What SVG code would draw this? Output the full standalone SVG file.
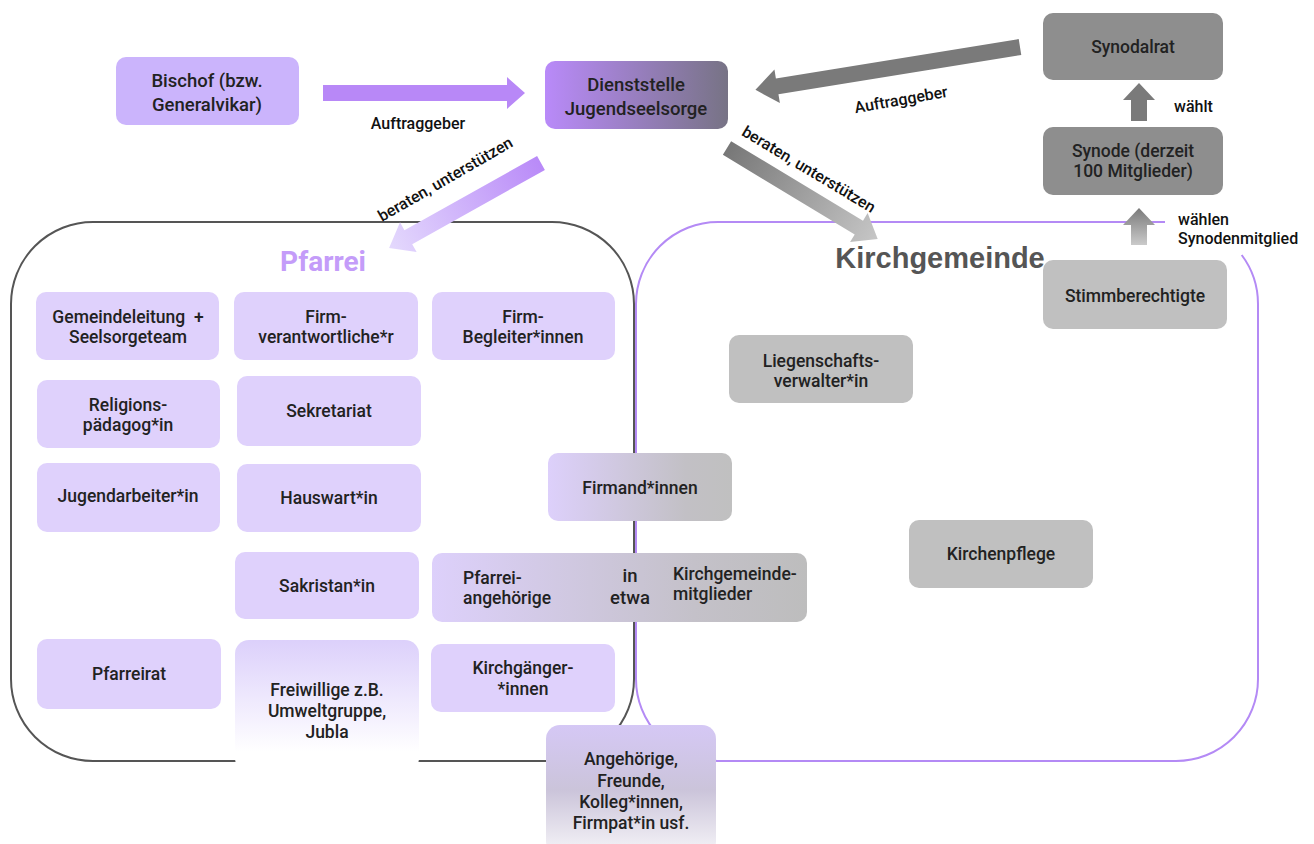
<svg xmlns="http://www.w3.org/2000/svg" width="1314" height="844" viewBox="0 0 1314 844">
<style>
.t{font-family:Roboto,"Liberation Sans",sans-serif;font-size:17.5px;font-weight:500;fill:#222;text-anchor:middle}
.tb{font-family:Roboto,"Liberation Sans",sans-serif;font-size:18.5px;font-weight:500;fill:#222;text-anchor:middle}
.tl{font-family:Roboto,"Liberation Sans",sans-serif;font-size:17.5px;font-weight:500;fill:#222}
.lab{font-family:Roboto,"Liberation Sans",sans-serif;font-size:16px;font-weight:500;fill:#111;text-anchor:middle}
.labs{font-family:Roboto,"Liberation Sans",sans-serif;font-size:16px;font-weight:500;fill:#111}
.pf{fill:#dfd1fc}
.gr{fill:#c0c0c0}
.dg{fill:#8e8e8e}
</style>
<defs>
<linearGradient id="gDienst" x1="0" y1="0" x2="1" y2="0"><stop offset="0" stop-color="#b98af9"/><stop offset="1" stop-color="#777385"/></linearGradient>
<linearGradient id="gFirmand" x1="0" y1="0" x2="1" y2="0"><stop offset="0" stop-color="#ddd0fb"/><stop offset="0.75" stop-color="#c2c0c5"/><stop offset="1" stop-color="#c0c0c0"/></linearGradient>
<linearGradient id="gRow" x1="0" y1="0" x2="1" y2="0"><stop offset="0" stop-color="#ddd0fb"/><stop offset="0.7" stop-color="#c4c1c9"/><stop offset="1" stop-color="#bdbdbd"/></linearGradient>
<linearGradient id="gFrei" x1="0" y1="0" x2="0" y2="1"><stop offset="0" stop-color="#dcd0fb"/><stop offset="0.85" stop-color="#ffffff"/></linearGradient>
<linearGradient id="gAng" x1="0" y1="0" x2="0" y2="1"><stop offset="0" stop-color="#d5c8f5"/><stop offset="0.5" stop-color="#cbc4da"/><stop offset="1" stop-color="#f6f5f8"/></linearGradient>
<linearGradient id="gArrP" x1="0" y1="0" x2="1" y2="0"><stop offset="0" stop-color="#b98af8"/><stop offset="1" stop-color="#e4d9fd"/></linearGradient>
<linearGradient id="gArrK" x1="0" y1="0" x2="1" y2="0"><stop offset="0" stop-color="#777777"/><stop offset="1" stop-color="#c6c6c6"/></linearGradient>
<linearGradient id="gUp" x1="0" y1="0" x2="0" y2="1"><stop offset="0" stop-color="#7a7a7a"/><stop offset="1" stop-color="#cacaca"/></linearGradient>
</defs>
<rect width="1314" height="844" fill="#ffffff"/>

<g id="containers">
<rect x="11" y="222" width="623" height="539" rx="82" fill="none" stroke="#555" stroke-width="2"/>
<path d="M1165,222 H718 A82,82 0 0 0 636,304 V679 A82,82 0 0 0 718,761 H1176 A82,82 0 0 0 1258,679 V304 A82,82 0 0 0 1241.7,255" fill="none" stroke="#b48af5" stroke-width="2"/>
<text x="323" y="271" style="font-family:Roboto,'Liberation Sans',sans-serif;font-size:28px;font-weight:bold;fill:#c49cf9;text-anchor:middle">Pfarrei</text>
<text x="940" y="268" style="font-family:'Liberation Sans',Arial,sans-serif;font-size:29px;font-weight:bold;fill:#555;text-anchor:middle">Kirchgemeinde</text>
</g>

<g id="bischof"><rect x="116" y="57" width="183" height="68" rx="10" fill="#cbb4fc"/><text class="tb" x="207" y="87">Bischof (bzw.</text><text class="tb" x="207" y="111">Generalvikar)</text></g>
<g id="dienststelle"><rect x="545" y="61" width="183" height="68" rx="10" fill="url(#gDienst)"/><text class="tb" x="636" y="91">Dienststelle</text><text class="tb" x="636" y="115">Jugendseelsorge</text></g>
<g id="synodalrat"><rect x="1043" y="13" width="180" height="67" rx="10" class="dg"/><text class="t" x="1133" y="53">Synodalrat</text></g>
<g id="synode"><rect x="1043" y="127" width="180" height="68" rx="10" class="dg"/><text class="t" x="1133" y="157">Synode (derzeit</text><text class="t" x="1133" y="177">100 Mitglieder)</text></g>
<g id="stimmberechtigte"><rect x="1043" y="260" width="184" height="69" rx="10" class="gr"/><text class="t" x="1135" y="302">Stimmberechtigte</text></g>
<g id="liegenschaft"><rect x="729" y="335" width="184" height="68" rx="10" class="gr"/><text class="t" x="821" y="367">Liegenschafts-</text><text class="t" x="821" y="387">verwalter*in</text></g>
<g id="kirchenpflege"><rect x="909" y="520" width="184" height="68" rx="10" class="gr"/><text class="t" x="1001" y="560">Kirchenpflege</text></g>

<g id="gemeindeleitung"><rect x="36" y="292" width="183" height="68" rx="10" class="pf"/><text class="t" x="128" y="323">Gemeindeleitung&#160; +</text><text class="t" x="128" y="343">Seelsorgeteam</text></g>
<g id="firmverantwortliche"><rect x="234" y="292" width="184" height="68" rx="10" class="pf"/><text class="t" x="326" y="323">Firm-</text><text class="t" x="326" y="343">verantwortliche*r</text></g>
<g id="firmbegleiter"><rect x="432" y="292" width="183" height="68" rx="10" class="pf"/><text class="t" x="523" y="323">Firm-</text><text class="t" x="523" y="343">Begleiter*innen</text></g>
<g id="religion"><rect x="37" y="380" width="183" height="68" rx="10" class="pf"/><text class="t" x="128" y="411">Religions-</text><text class="t" x="128" y="431">pädagog*in</text></g>
<g id="sekretariat"><rect x="237" y="376" width="184" height="70" rx="10" class="pf"/><text class="t" x="329" y="417">Sekretariat</text></g>
<g id="jugendarbeiter"><rect x="37" y="463" width="183" height="69" rx="10" class="pf"/><text class="t" x="128" y="502">Jugendarbeiter*in</text></g>
<g id="hauswart"><rect x="237" y="464" width="184" height="68" rx="10" class="pf"/><text class="t" x="329" y="504">Hauswart*in</text></g>
<g id="sakristan"><rect x="235" y="552" width="184" height="67" rx="10" class="pf"/><text class="t" x="327" y="592">Sakristan*in</text></g>
<g id="pfarreirat"><rect x="37" y="639" width="184" height="70" rx="10" class="pf"/><text class="t" x="129" y="680">Pfarreirat</text></g>
<g id="freiwillige"><rect x="235" y="640" width="184" height="132" rx="14" fill="url(#gFrei)"/><text class="t" x="327" y="696">Freiwillige z.B.</text><text class="t" x="327" y="717">Umweltgruppe,</text><text class="t" x="327" y="738">Jubla</text></g>
<g id="kirchgaenger"><rect x="431" y="644" width="184" height="68" rx="10" class="pf"/><text class="t" x="523" y="674">Kirchgänger-</text><text class="t" x="523" y="695">*innen</text></g>
<g id="firmand"><rect x="548" y="453" width="184" height="68" rx="10" fill="url(#gFirmand)"/><text class="t" x="640" y="494">Firmand*innen</text></g>
<g id="mitglieder"><rect x="432" y="553" width="375" height="69" rx="10" fill="url(#gRow)"/><text class="tl" x="463" y="584">Pfarrei-</text><text class="tl" x="463" y="604">angehörige</text><text class="tb" x="630" y="582">in</text><text class="tb" x="630" y="604">etwa</text><text class="tl" x="673" y="580">Kirchgemeinde-</text><text class="tl" x="673" y="600">mitglieder</text></g>
<g id="angehoerige"><rect x="546" y="725" width="170" height="130" rx="14" fill="url(#gAng)"/><text class="t" x="631" y="765">Angehörige,</text><text class="t" x="631" y="787">Freunde,</text><text class="t" x="631" y="808">Kolleg*innen,</text><text class="t" x="631" y="829">Firmpat*in usf.</text></g>

<g id="connectors">
<path transform="translate(323,93)" d="M0,-8 H184 V-16 L202,0 L184,16 V8 H0 Z" fill="#b888f7"/>
<text class="lab" x="418" y="129">Auftraggeber</text>
<path transform="translate(1020,47) rotate(170.8)" d="M0,-8 H246 V-17 L268,0 L246,17 V8 H0 Z" fill="#7a7a7a"/>
<text class="lab" x="902" y="105" transform="rotate(-10 902 105)">Auftraggeber</text>
<path transform="translate(541,163) rotate(150.8)" d="M0,-8 H152 V-17 L174,0 L152,17 V8 H0 Z" fill="url(#gArrP)"/>
<text class="lab" x="448" y="184" transform="rotate(-30 448 184)">beraten, unterstützen</text>
<path transform="translate(727,148) rotate(31.1)" d="M0,-8 H154 V-17 L176,0 L154,17 V8 H0 Z" fill="url(#gArrK)"/>
<text class="lab" x="806" y="174" transform="rotate(31 806 174)">beraten, unterstützen</text>
<polygon points="1131,121 1131,100 1123,100 1139,83 1155,100 1147,100 1147,121" fill="#7a7a7a"/>
<text class="labs" x="1174" y="112">wählt</text>
<polygon points="1131,245 1131,225 1123,225 1139,208 1155,225 1147,225 1147,245" fill="url(#gUp)"/>
<text class="labs" x="1178" y="225">wählen</text>
<text class="labs" x="1178" y="244">Synodenmitglied</text>
</g>
</svg>
